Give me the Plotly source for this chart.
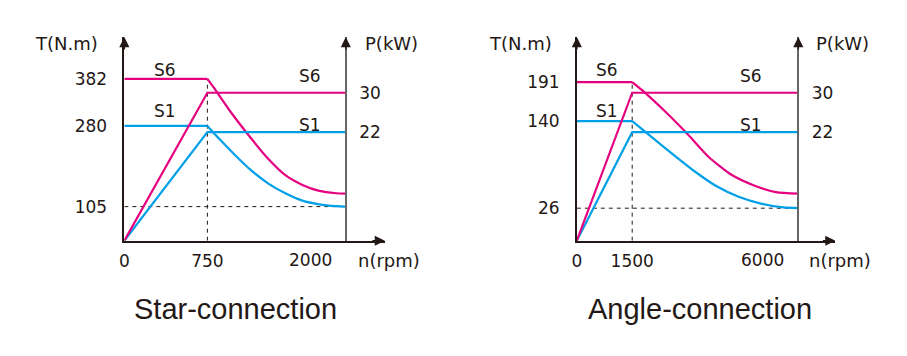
import plotly.graph_objects as go

# ---------------- data ----------------
# Star-connection
star_speed_ticks = [0, 750]
star_speed_max = 2000
star_torque_ticks = [105, 280, 382]
star_power_speed = [0, 750, 2000]
star_s6_power = [0, 30, 30]
star_s1_power = [0, 22, 22]
star_const_speed = [0, 750]
star_s6_const_torque = [382, 382]
star_s1_const_torque = [280, 280]
star_s6_fw_speed = [750, 805, 964, 1148, 1301, 1454, 1608, 1761, 1914, 2000]
star_s6_fw_torque = [382, 364, 309, 252, 208, 173, 152, 139, 134, 133]
star_s1_fw_speed = [750, 857, 994, 1148, 1301, 1454, 1608, 1761, 1914, 2000]
star_s1_fw_torque = [280, 252, 218, 183, 155, 134, 118, 110, 106, 105]

# Angle-connection
angle_speed_ticks = [0, 1500]
angle_speed_max = 6000
angle_torque_ticks = [26, 140, 191]
angle_power_speed = [0, 1500, 6000]
angle_s6_power = [0, 30, 30]
angle_s1_power = [0, 22, 22]
angle_const_speed = [0, 1500]
angle_s6_const_torque = [191, 191]
angle_s1_const_torque = [140, 140]
angle_s6_fw_speed = [1500, 1752, 2359, 3017, 3572, 4179, 4786, 5393, 6000]
angle_s6_fw_torque = [191, 181, 154, 122, 93, 70, 56, 47, 45]
angle_s1_fw_speed = [1500, 1955, 2562, 3169, 3776, 4382, 4989, 5596, 6000]
angle_s1_fw_torque = [140, 122, 98, 75, 55, 41, 32, 27, 26]

power_ticks = [22, 30]

# ---------------- style ----------------
W, H = 907, 356
S6_COLOR = "#E4007F"
S1_COLOR = "#00A0E9"
INK = "#231815"
AXIS_GRAY = "#666666"
LABEL_FONT = dict(family="DejaVu Sans", size=17, color=INK)
AXTITLE_FONT = dict(family="DejaVu Sans", size=18, color=INK)
TITLE_FONT = dict(family="Liberation Sans", size=29, color=INK)
LW = 2.2

Y_DOMAIN = [1 - 240.7 / H, 1 - 37 / H]
panels = [
    dict(name="Star-connection", xa="x", ya="y", pa="y2", xdom=[120 / W, 382 / W],
         xrange=[0, 2353], trange=[31.1, 472.7], prange=[0, 41.3],
         speed_ticks=star_speed_ticks, speed_max=star_speed_max,
         torque_ticks=star_torque_ticks,
         power_speed=star_power_speed, s6_power=star_s6_power, s1_power=star_s1_power,
         const_speed=star_const_speed, s6_const=star_s6_const_torque, s1_const=star_s1_const_torque,
         s6_fw_speed=star_s6_fw_speed, s6_fw=star_s6_fw_torque,
         s1_fw_speed=star_s1_fw_speed, s1_fw=star_s1_fw_torque,
         title_x=231.7, tlabel_x=62.3, plabel_x=389, nlabel_x=386,
         s_left_x=161, s_right_x=307),
    dict(name="Angle-connection", xa="x2", ya="y3", pa="y4", xdom=[575 / W, 835 / W],
         xrange=[0, 7005], trange=[-16.5, 249.9], prange=[0, 41.3],
         speed_ticks=angle_speed_ticks, speed_max=angle_speed_max,
         torque_ticks=angle_torque_ticks,
         power_speed=angle_power_speed, s6_power=angle_s6_power, s1_power=angle_s1_power,
         const_speed=angle_const_speed, s6_const=angle_s6_const_torque, s1_const=angle_s1_const_torque,
         s6_fw_speed=angle_s6_fw_speed, s6_fw=angle_s6_fw_torque,
         s1_fw_speed=angle_s1_fw_speed, s1_fw=angle_s1_fw_torque,
         title_x=699, tlabel_x=518.3, plabel_x=842.5, nlabel_x=840,
         s_left_x=605, s_right_x=750),
]

fig = go.Figure()
annotations = []
shapes = []
layout = {}

for p in panels:
    xa, ya, pa = p["xa"], p["ya"], p["pa"]
    # power lines
    for pw, col in ((p["s1_power"], S1_COLOR), (p["s6_power"], S6_COLOR)):
        fig.add_trace(go.Scatter(x=p["power_speed"], y=pw, xaxis=xa, yaxis=pa, mode="lines",
                                 line=dict(color=col, width=LW), hoverinfo="skip", cliponaxis=False))
    # torque lines
    for cs, cv, fs, fv, col in ((p["const_speed"], p["s1_const"], p["s1_fw_speed"], p["s1_fw"], S1_COLOR),
                                (p["const_speed"], p["s6_const"], p["s6_fw_speed"], p["s6_fw"], S6_COLOR)):
        fig.add_trace(go.Scatter(x=cs, y=cv, xaxis=xa, yaxis=ya, mode="lines",
                                 line=dict(color=col, width=LW), hoverinfo="skip", cliponaxis=False))
        fig.add_trace(go.Scatter(x=fs, y=fv, xaxis=xa, yaxis=ya, mode="lines",
                                 line=dict(color=col, width=LW, shape="spline", smoothing=0.6),
                                 hoverinfo="skip", cliponaxis=False))

    xkey = "xaxis" + xa[1:]
    ykey = "yaxis" + ya[1:]
    pkey = "yaxis" + pa[1:]
    base_speed = p["speed_ticks"][1]
    frac = p["speed_max"] / p["xrange"][1]
    right_pos = p["xdom"][0] + frac * (p["xdom"][1] - p["xdom"][0])

    layout[xkey] = dict(domain=p["xdom"], range=p["xrange"], anchor=ya, showgrid=False, zeroline=False,
                        showline=True, linecolor=INK, linewidth=1.5, ticks="", tickvals=p["speed_ticks"],
                        ticktext=[str(v) for v in p["speed_ticks"]], tickfont=LABEL_FONT,
                        ticklabelstandoff=4)
    layout[ykey] = dict(domain=Y_DOMAIN, range=p["trange"], anchor=xa, showgrid=False, zeroline=False,
                        showline=True, linecolor=INK, linewidth=1.5, ticks="", tickvals=p["torque_ticks"],
                        ticktext=[str(v) for v in p["torque_ticks"]], tickfont=LABEL_FONT,
                        ticklabelstandoff=12)
    layout[pkey] = dict(domain=Y_DOMAIN, range=p["prange"], overlaying=ya, side="right", anchor="free",
                        position=right_pos, showgrid=False, zeroline=False, showline=True,
                        linecolor=AXIS_GRAY, linewidth=2, ticks="", tickvals=power_ticks,
                        ticktext=[str(v) for v in power_ticks], tickfont=LABEL_FONT,
                        ticklabelstandoff=9)

    # dashed reference lines
    shapes.append(dict(type="line", xref=xa, yref=ya, x0=base_speed, x1=base_speed,
                       y0=p["trange"][0], y1=p["s6_const"][1],
                       line=dict(color=INK, width=1, dash="4px,4px"), layer="below"))
    shapes.append(dict(type="line", xref=xa, yref=ya, x0=0, x1=p["speed_max"],
                       y0=p["torque_ticks"][0], y1=p["torque_ticks"][0],
                       line=dict(color=INK, width=1, dash="4px,4px"), layer="below"))

    # axis arrowheads
    arrow = dict(showarrow=True, text="", arrowhead=2, arrowsize=1.35, arrowwidth=1.5,
                 arrowcolor=INK, axref="pixel", ayref="pixel")
    annotations.append(dict(arrow, x=0, xref=xa, y=1, yref=ya + " domain", ax=0, ay=14))
    annotations.append(dict(arrow, x=p["speed_max"], xref=xa, y=1, yref=ya + " domain", ax=0, ay=14))
    annotations.append(dict(arrow, x=1, xref=xa + " domain", y=0, yref=ya + " domain", ax=-14, ay=0))

    # max speed tick label placed left of the right axis
    annotations.append(dict(text=str(p["speed_max"]), x=p["speed_max"], xref=xa, y=0, yref=ya + " domain",
                            xanchor="right", yanchor="top", xshift=-12, yshift=-7, showarrow=False,
                            font=LABEL_FONT))

    def txt(t, x, y, font=LABEL_FONT, xanchor="center"):
        annotations.append(dict(text=t, x=x / W, y=1 - y / H, xref="paper", yref="paper",
                                xanchor=xanchor, yanchor="middle", showarrow=False, font=font))

    txt("T(N.m)", p["tlabel_x"], 44, AXTITLE_FONT)
    txt("P(kW)", p["plabel_x"], 44, AXTITLE_FONT)
    txt("n(rpm)", p["nlabel_x"], 260, AXTITLE_FONT)
    txt("S6", p["s_left_x"], 70)
    txt("S1", p["s_left_x"], 111)
    txt("S6", p["s_right_x"], 76)
    txt("S1", p["s_right_x"], 125)
    txt(p["name"], p["title_x"], 309, TITLE_FONT)

fig.update_layout(
    width=W, height=H, margin=dict(l=0, r=0, t=0, b=0, pad=0),
    paper_bgcolor="white", plot_bgcolor="rgba(0,0,0,0)", showlegend=False,
    shapes=shapes, annotations=annotations, **layout,
)

fig.write_html("out.html", config={"displayModeBar": False},
               post_script="document.body.style.margin='0';document.body.style.overflow='hidden';")
